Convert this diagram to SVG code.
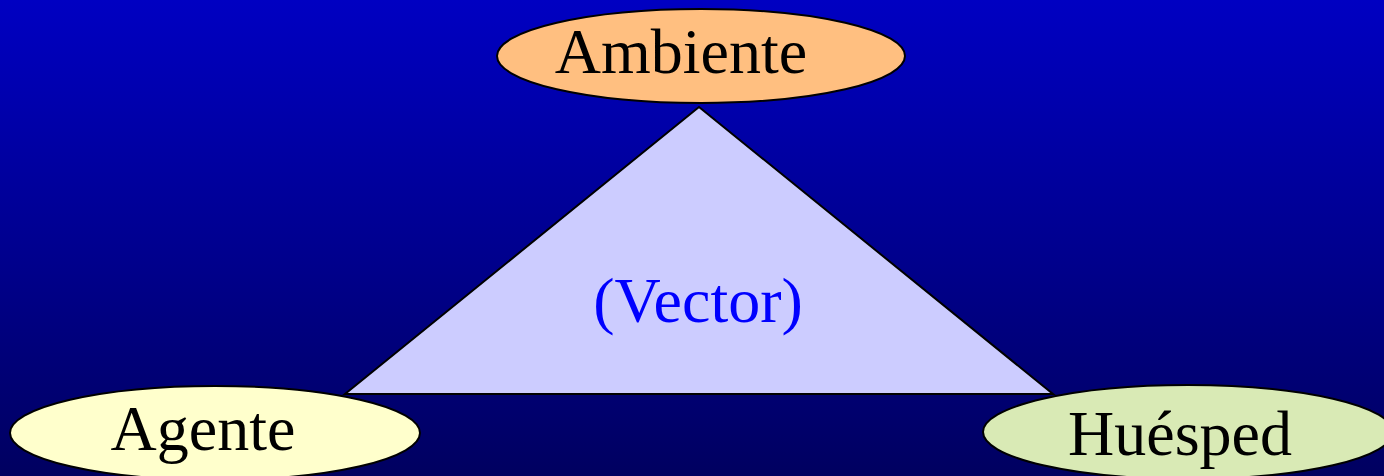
<svg xmlns="http://www.w3.org/2000/svg" width="1384" height="476" viewBox="0 0 1384 476">
<defs>
<linearGradient id="bg" x1="0" y1="0" x2="0" y2="1">
<stop offset="0" stop-color="#0000C2"/>
<stop offset="1" stop-color="#000060"/>
</linearGradient>
</defs>
<style>
.n{stroke:#000;stroke-width:2}
.t{font-family:"Liberation Serif","Times New Roman",serif;font-size:64px;fill:#000}
</style>
<rect width="1384" height="476" fill="url(#bg)"/>
<g id="connectors">
<polygon id="triangle" points="699,107 345,394 1053,394" fill="#CCCCFF" stroke="#000" stroke-width="2"/>
<text class="t" x="698" y="322" text-anchor="middle" style="fill:#0000FF">(Vector)</text>
</g>
<g id="ambiente">
<ellipse class="n" cx="701" cy="56" rx="204" ry="47" fill="#FFBF80"/>
<text class="t" x="681" y="73" text-anchor="middle">Ambiente</text>
</g>
<g id="agente">
<ellipse class="n" cx="215" cy="433" rx="205" ry="47" fill="#FFFFCC"/>
<text class="t" x="203" y="450" text-anchor="middle">Agente</text>
</g>
<g id="huesped">
<ellipse class="n" cx="1188" cy="432" rx="205" ry="47" fill="#D9EAB5"/>
<text class="t" x="1180" y="455" text-anchor="middle">Huésped</text>
</g>
</svg>
